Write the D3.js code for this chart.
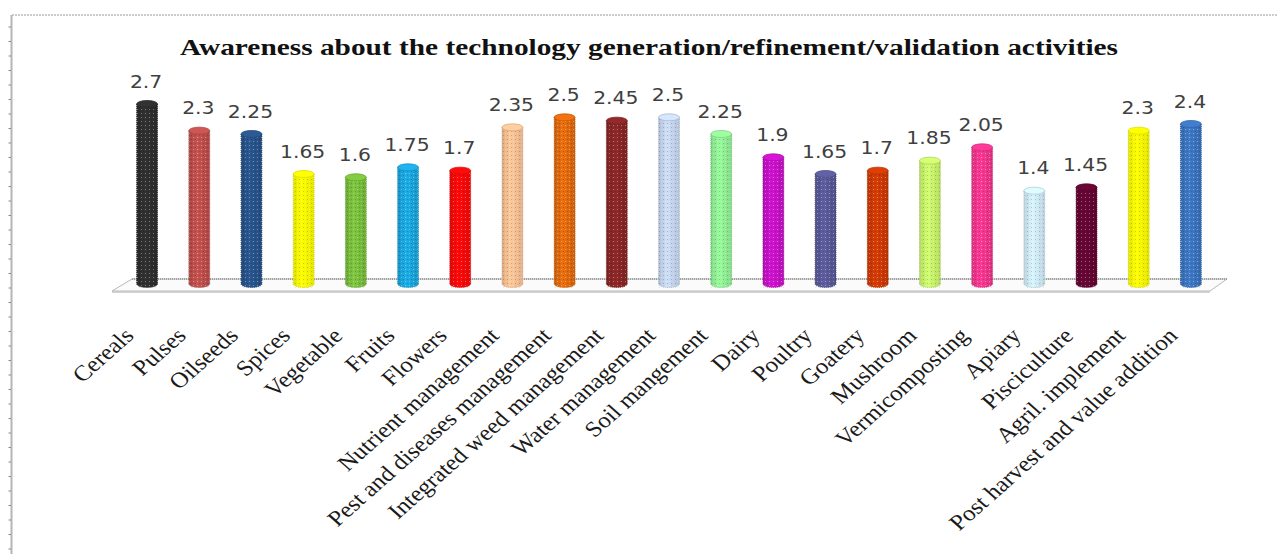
<!DOCTYPE html>
<html>
<head>
<meta charset="utf-8">
<script src="https://cdn.jsdelivr.net/npm/d3@7/dist/d3.min.js"></script>
<style>
  html, body { margin: 0; padding: 0; background: #fff; }
  svg { display: block; }
</style>
</head>
<body>
<svg id="chart" width="1278" height="554"></svg>
<script>
const titleText = "Awareness about the technology generation/refinement/validation activities";
const categories = ["Cereals", "Pulses", "Oilseeds", "Spices", "Vegetable", "Fruits", "Flowers",
  "Nutrient management", "Pest and diseases management", "Integrated weed management",
  "Water management", "Soil mangement", "Dairy", "Poultry", "Goatery", "Mushroom",
  "Vermicomposting", "Apiary", "Pisciculture", "Agril. implement", "Post harvest and value addition"];
const values = [2.7, 2.3, 2.25, 1.65, 1.6, 1.75, 1.7, 2.35, 2.5, 2.45, 2.5, 2.25, 1.9, 1.65, 1.7, 1.85,
  2.05, 1.4, 1.45, 2.3, 2.4];
const valueLabels = ["2.7", "2.3", "2.25", "1.65", "1.6", "1.75", "1.7", "2.35", "2.5", "2.45", "2.5",
  "2.25", "1.9", "1.65", "1.7", "1.85", "2.05", "1.4", "1.45", "2.3", "2.4"];
const colors = ["#2f2f2f", "#c0504d", "#28548c", "#ffff00", "#79c03c", "#1aa8e0", "#ff0a0a",
  "#fcc294", "#e36a0c", "#8a2626", "#c6d7f0", "#92f295", "#c912c9", "#5a5a9a", "#d03a05",
  "#c9f56a", "#f5368f", "#d0ecf8", "#650633", "#ffff00", "#3c76c2"];

const svg = d3.select("#chart");
const W = 1278, H = 554;
const SX = 1.13; // horizontal stretch of the original picture

const x = d3.scaleBand().domain(categories).range([121, 1217]).paddingInner(0.6).paddingOuter(0.3);
const y = d3.scaleLinear().domain([0, 3]).range([284, 84]);
const bw = x.bandwidth();
const ry = 3.5;

const defs = svg.append("defs");
const dots = defs.append("pattern").attr("id", "dots").attr("patternUnits", "userSpaceOnUse")
  .attr("width", 4).attr("height", 4);
dots.append("rect").attr("x", 1).attr("y", 1).attr("width", 1).attr("height", 1).attr("fill", "#fff").attr("opacity", 0.35);
dots.append("rect").attr("x", 3).attr("y", 3).attr("width", 1).attr("height", 1).attr("fill", "#000").attr("opacity", 0.18);

colors.forEach((c, i) => {
  const g = defs.append("linearGradient").attr("id", "grad" + i).attr("x1", "0").attr("x2", "1").attr("y1", "0").attr("y2", "0");
  const base = d3.color(c);
  g.append("stop").attr("offset", "0%").attr("stop-color", base.darker(0.35));
  g.append("stop").attr("offset", "40%").attr("stop-color", base.brighter(0.12));
  g.append("stop").attr("offset", "100%").attr("stop-color", base.darker(0.3));
});

// frame (picture border)
svg.append("line").attr("x1", 12).attr("x2", W).attr("y1", 15).attr("y2", 15)
  .attr("stroke", "#9a9a9a").attr("stroke-width", 1.2).attr("stroke-dasharray", "2,1");
svg.append("line").attr("x1", 11.5).attr("x2", 11.5).attr("y1", 15).attr("y2", H)
  .attr("stroke", "#b5b5b5").attr("stroke-width", 2);
svg.append("g").selectAll("line").data(d3.range(27, H, 14.5)).join("line")
  .attr("x1", 8.5).attr("x2", 11).attr("y1", d => d).attr("y2", d => d)
  .attr("stroke", "#8a8a8a").attr("stroke-width", 1);

// title
svg.append("text")
  .attr("x", 649).attr("y", 55)
  .attr("text-anchor", "middle")
  .attr("font-family", "'Liberation Serif', 'Times New Roman', serif")
  .attr("font-weight", "bold")
  .attr("font-size", 22.5)
  .attr("fill", "#111")
  .attr("textLength", 938)
  .attr("lengthAdjust", "spacingAndGlyphs")
  .text(titleText);

// floor
const r0 = x.range()[0], r1 = x.range()[1];
const floorBack = y(0) - 5, floorFront = y(0) + 7;
svg.append("polygon")
  .attr("points", [[r0 - 9, floorFront], [r0 + 11, floorBack], [r1 + 10, floorBack], [r1 - 7, floorFront]].map(p => p.join(",")).join(" "))
  .attr("fill", "#fbfbfb").attr("stroke", "#b8b8b8").attr("stroke-width", 1);
svg.append("line").attr("x1", r0 + 11).attr("x2", r1 + 10).attr("y1", floorBack).attr("y2", floorBack)
  .attr("stroke", "#8c8c8c").attr("stroke-width", 1.3).attr("stroke-dasharray", "1,1");
svg.append("line").attr("x1", r0 - 9).attr("x2", r1 - 7).attr("y1", floorFront + 1).attr("y2", floorFront + 1)
  .attr("stroke", "#c4c4c4").attr("stroke-width", 1.5);

// bars (cylinders)
const bars = svg.append("g").selectAll("g").data(values).join("g");
bars.append("rect")
  .attr("x", (d, i) => x(categories[i]))
  .attr("y", d => y(d))
  .attr("width", bw)
  .attr("height", d => y(0) - y(d))
  .attr("fill", (d, i) => `url(#grad${i})`);
bars.append("ellipse")
  .attr("cx", (d, i) => x(categories[i]) + bw / 2)
  .attr("cy", y(0))
  .attr("rx", bw / 2).attr("ry", ry)
  .attr("fill", (d, i) => `url(#grad${i})`);
bars.append("rect")
  .attr("x", (d, i) => x(categories[i]))
  .attr("y", d => y(d))
  .attr("width", bw)
  .attr("height", d => y(0) - y(d) + ry)
  .attr("fill", "url(#dots)");
bars.append("ellipse")
  .attr("cx", (d, i) => x(categories[i]) + bw / 2)
  .attr("cy", d => y(d))
  .attr("rx", bw / 2).attr("ry", ry)
  .attr("fill", (d, i) => d3.color(colors[i]).brighter(0.2))
  .attr("stroke", (d, i) => d3.color(colors[i]).darker(0.4))
  .attr("stroke-width", 0.8);
// side outlines
bars.append("path")
  .attr("d", (d, i) => {
    const x0 = x(categories[i]), x1 = x0 + bw;
    return `M${x0},${y(d)}L${x0},${y(0)}A${bw / 2},${ry} 0 0 0 ${x1},${y(0)}L${x1},${y(d)}`;
  })
  .attr("fill", "none")
  .attr("stroke", (d, i) => d3.color(colors[i]).darker(0.6))
  .attr("stroke-width", 0.8)
  .attr("stroke-dasharray", "1,1");

// value labels
svg.append("g").selectAll("text").data(values).join("text")
  .attr("transform", (d, i) => `translate(${x(categories[i]) + bw / 2 - 1},${y(d) - ry - 13}) scale(${SX},1)`)
  .attr("text-anchor", "middle")
  .attr("font-family", "'DejaVu Sans', sans-serif")
  .attr("font-size", 18)
  .attr("fill", "#404040")
  .text((d, i) => valueLabels[i]);

// category labels
svg.append("g").selectAll("text").data(categories).join("text")
  .attr("transform", d => `translate(${x(d) + bw / 2 - 12},${y(0) + 53}) scale(${SX},1) rotate(-45)`)
  .attr("text-anchor", "end")
  .attr("font-family", "'Liberation Serif', 'Times New Roman', serif")
  .attr("font-size", 22)
  .attr("fill", "#1a1a1a")
  .text(d => d);
</script>
</body>
</html>
